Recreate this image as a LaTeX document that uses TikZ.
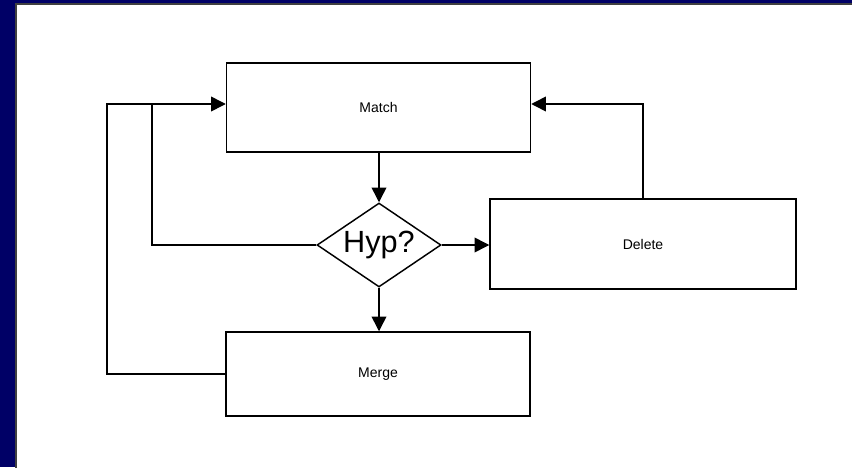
\documentclass[tikz,border=0pt]{standalone}
\usepackage{fontspec}
\setmainfont{Liberation Sans}
\usetikzlibrary{arrows.meta,shapes.geometric}
\definecolor{navy}{RGB}{0,0,102}
\tikzset{
  boxnode/.style={draw, line width=1.1pt, inner sep=0pt, font=\fontsize{10.5}{12}\selectfont},
  arr/.style={line width=1.1pt, -{Triangle[length=11pt,width=11pt]}},
  conn/.style={line width=1.1pt},
}
\begin{document}
\begin{tikzpicture}[x=0.75pt,y=-0.75pt]
\useasboundingbox (0,0) rectangle (852,467);
\fill[navy] (0,0) rectangle (852,467);
\fill[white] (16,4) rectangle (862,477);
\draw[black!75, line width=0.8pt] (16,477) -- (16,4) -- (862,4);

\node[boxnode, minimum width=228pt, minimum height=66.75pt] (match) at (378.5,107.5) {Match};
\node[boxnode, minimum width=229.5pt, minimum height=67.5pt] (delete) at (643,244) {Delete};
\node[boxnode, minimum width=228pt, minimum height=63pt] (merge) at (378,374) {Merge};
\node[diamond, draw, line width=1.1pt, inner sep=0pt, minimum width=93pt, minimum height=63pt] (hyp) at (379,245) {};
\node[font=\fontsize{23}{26}\selectfont, inner sep=0pt] (hyptext) at (hyp.center) {Hyp?};

\coordinate (ry) at (0,104);
\coordinate (c1) at (152,104);
\coordinate (c2) at (107,104);

\draw[arr] (hyp.north |- match.south) -- (hyp.north);
\draw[arr] (hyp.south) -- (hyp.south |- merge.north);
\draw[arr] (hyp.east) -- (hyp.east -| delete.west);
\draw[arr] (delete.north) |- (match.east |- ry);
\draw[conn] (merge.west) -| (c2) -- (c1);
\draw[arr] (hyp.west) -| (c1) -- (match.west |- c1);
\end{tikzpicture}
\end{document}
